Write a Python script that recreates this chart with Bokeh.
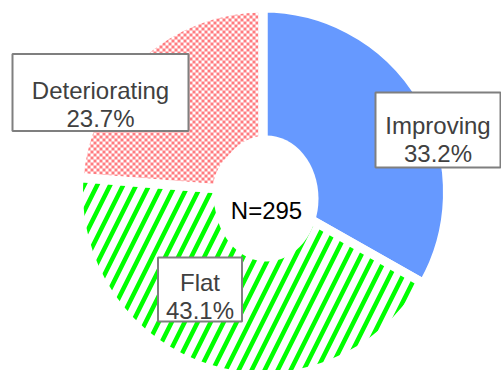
import numpy as np
from bokeh.plotting import figure
from bokeh.models import Range1d, ColumnDataSource
from bokeh.core.properties import value
from bokeh.embed import file_html
from bokeh.resources import INLINE

# ---- data ----
categories = ["Improving", "Flat", "Deteriorating"]
shares = [33.2, 43.1, 23.7]          # percent
n_total = 295

# ---- layout / style (screen px, y downward) ----
W, H = 501, 370
CX, CY = 262.5, 192.0
GAP = 9
R_OUT = 180 + GAP / 2
R_IN = 46
FONT = value("Liberation Sans")
FSIZE = "24px"
CHECK = 3                      # checker square size, px
CHECK_RGB = (255, 124, 128)

# label placement: text centre x, first baseline y, box (cx, cy, w, h)
label_text_pos = [(437.5, 125.0), (199.5, 282.0), (100.0, 90.0)]
label_box = [(437.5, 129.5, 125, 75), (199.5, 289.0, 84, 64), (100.0, 92.0, 176, 77)]
LINE_STEP = 27.5

def yd(ys):
    return H - ys

p = figure(width=W, height=H, x_range=Range1d(0, W), y_range=Range1d(0, H),
           output_backend="svg", toolbar_location=None, min_border=0,
           x_axis_type=None, y_axis_type=None)
p.grid.visible = False
p.outline_line_color = None
p.background_fill_color = "white"
p.border_fill_color = "white"

frac = np.array(shares) / 100.0
cum = np.concatenate([[0], np.cumsum(frac)])
starts = np.pi / 2 - 2 * np.pi * cum[:-1]
ends = np.pi / 2 - 2 * np.pi * cum[1:]

# checker texture for the "Deteriorating" wedge, masked to its sector
k = categories.index("Deteriorating")
jj, ii = np.mgrid[0:H, 0:W]
sx = ii + 0.5
sy = H - (jj + 0.5)
dx = sx - CX
dy = CY - sy
rr = np.hypot(dx, dy)
th = np.arctan2(dy, dx)
inside = (np.mod(starts[k] - th, 2 * np.pi) <= 2 * np.pi * frac[k]) & (rr >= R_IN) & (rr <= R_OUT)
sq = ((ii // CHECK) + ((H - 1 - jj) // CHECK)) % 2 == 0
on = inside & sq
rgba = np.zeros((H, W, 4), dtype=np.uint8)
rgba[on, 0] = CHECK_RGB[0]
rgba[on, 1] = CHECK_RGB[1]
rgba[on, 2] = CHECK_RGB[2]
rgba[on, 3] = 255
img = rgba.view(np.uint32).reshape(H, W)
p.image_rgba(image=[img], x=0, y=0, dw=W, dh=H)

styles = {
    "Improving": dict(fill_color="#6699FF"),
    "Flat": dict(fill_color="white", hatch_pattern="right_diagonal_line",
                 hatch_color="#00FF00", hatch_scale=26, hatch_weight=4.5),
    "Deteriorating": dict(fill_color=None),
}

for i, cat in enumerate(categories):
    src = ColumnDataSource(dict(x=[CX], y=[yd(CY)], s=[starts[i]], e=[ends[i]]))
    p.annular_wedge(x="x", y="y", inner_radius=R_IN, outer_radius=R_OUT,
                    start_angle="s", end_angle="e", direction="clock",
                    line_color="white", line_width=GAP, source=src,
                    **styles[cat])

# white oval behind centre text
p.ellipse(x=[266], y=[yd(198)], width=104, height=126, fill_color="white", line_color=None)
p.text(x=[266], y=[yd(210)], text=[f"N={n_total}"], text_font=FONT, text_font_size=FSIZE,
       text_color="black", text_align="center", text_baseline="alphabetic")

# labels
for i, cat in enumerate(categories):
    bx, by, bw, bh = label_box[i]
    p.rect(x=[bx], y=[yd(by)], width=bw, height=bh, fill_color="white",
           line_color="#7F7F7F", line_width=2)
    tx, ty = label_text_pos[i]
    p.text(x=[tx, tx], y=[yd(ty), yd(ty + LINE_STEP)],
           text=[cat, f"{shares[i]:.1f}%"], text_font=FONT, text_font_size=FSIZE,
           text_color="#404040", text_align="center", text_baseline="alphabetic")

open("out.html", "w").write(file_html(p, INLINE))
